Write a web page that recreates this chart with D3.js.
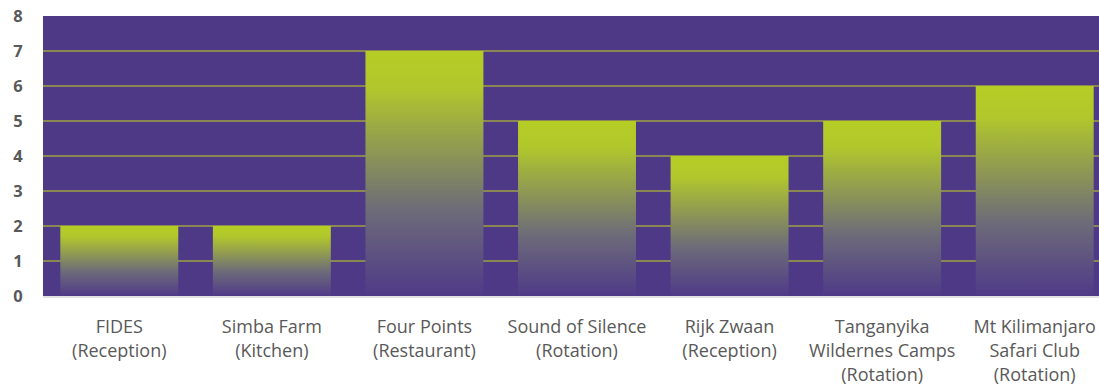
<!DOCTYPE html>
<html>
<head>
<meta charset="utf-8">
<script src="https://cdn.jsdelivr.net/npm/d3@7"></script>
<style>
  body { margin: 0; background: #fff; }
  svg text { font-family: "Open Sans", "Noto Sans", sans-serif; }
</style>
</head>
<body>
<svg width="1099" height="388"></svg>
<script>
const categories = [
    ["FIDES", "(Reception)"],
    ["Simba Farm", "(Kitchen)"],
    ["Four Points", "(Restaurant)"],
    ["Sound of Silence", "(Rotation)"],
    ["Rijk Zwaan", "(Reception)"],
    ["Tanganyika", "Wildernes Camps", "(Rotation)"],
    ["Mt Kilimanjaro", "Safari Club", "(Rotation)"]
];
const values = [2, 2, 7, 5, 4, 5, 6];
const yTicks = [0, 1, 2, 3, 4, 5, 6, 7, 8];

const svg = d3.select("svg");
const plotLeft = 43, plotRight = 1111, plotTop = 16, plotBottom = 296;

const x = d3.scaleBand()
    .domain(d3.range(categories.length))
    .range([plotLeft, plotRight])
    .paddingInner(0.227)
    .paddingOuter(0.1135);

const y = d3.scaleLinear().domain([0, 8]).range([plotBottom, plotTop]);

// gradient for bars
const grad = svg.append("defs").append("linearGradient")
    .attr("id", "barGrad")
    .attr("x1", 0).attr("y1", 0).attr("x2", 0).attr("y2", 1);
grad.append("stop").attr("offset", "0%").attr("stop-color", "#b5cd25");
grad.append("stop").attr("offset", "15%").attr("stop-color", "#b1c72c");
grad.append("stop").attr("offset", "65%").attr("stop-color", "#6d6b79");
grad.append("stop").attr("offset", "100%").attr("stop-color", "#4f3a88");

// plot background
svg.append("rect")
    .attr("x", plotLeft)
    .attr("y", plotTop)
    .attr("width", plotRight - plotLeft)
    .attr("height", plotBottom - plotTop)
    .attr("fill", "#4e3987");

// gridlines
svg.selectAll(".grid")
    .data(yTicks.filter(d => d > 0 && d < 8))
    .enter().append("line")
    .attr("x1", plotLeft)
    .attr("x2", plotRight)
    .attr("y1", d => y(d))
    .attr("y2", d => y(d))
    .attr("stroke", "#9fa243")
    .attr("stroke-width", 1.5);

// bars
svg.selectAll(".bar")
    .data(values)
    .enter().append("rect")
    .attr("x", (d, i) => x(i))
    .attr("y", d => y(d))
    .attr("width", x.bandwidth())
    .attr("height", d => plotBottom - y(d))
    .attr("fill", "url(#barGrad)");

// baseline
svg.append("line")
    .attr("x1", plotLeft)
    .attr("x2", plotRight)
    .attr("y1", plotBottom + 1)
    .attr("y2", plotBottom + 1)
    .attr("stroke", "#d9d9d9")
    .attr("stroke-width", 1.5);

// y labels
svg.selectAll(".ylab")
    .data(yTicks)
    .enter().append("text")
    .attr("x", 18)
    .attr("y", d => y(d) + 6)
    .attr("text-anchor", "middle")
    .attr("font-size", 16.5)
    .attr("font-weight", "bold")
    .attr("fill", "#595959")
    .text(d => d);

// x labels
const xl = svg.selectAll(".xlab")
    .data(categories)
    .enter().append("text")
    .attr("text-anchor", "middle")
    .attr("font-size", 18)
    .attr("fill", "#595959");

xl.each(function(lines, i) {
    const t = d3.select(this);
    lines.forEach((s, j) => {
        t.append("tspan")
            .attr("x", x(i) + x.bandwidth() / 2)
            .attr("y", 333 + j * 24)
            .text(s);
    });
});
</script>
</body>
</html>
